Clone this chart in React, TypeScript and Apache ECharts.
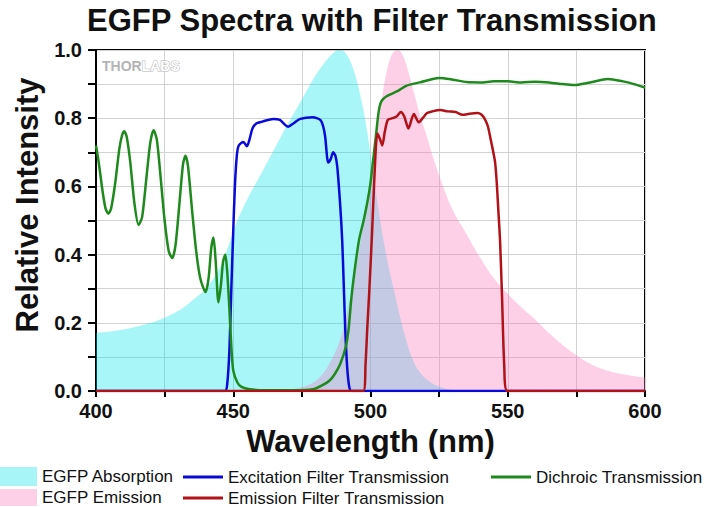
import React, { useEffect, useRef } from "react";
import * as echarts from "echarts";

// ---------- data (wavelength in nm, relative intensity) ----------
const absorptionNm = [400, 410, 420, 425, 430, 435, 440, 445, 448, 451, 455, 460, 465, 470, 475, 480, 484, 487, 489, 491, 493, 495, 497, 499, 501, 503, 505, 507, 509, 511, 513, 515, 518, 522, 526, 530, 600];
const absorptionVal = [0.17, 0.18, 0.2, 0.215, 0.235, 0.265, 0.3, 0.36, 0.42, 0.49, 0.56, 0.635, 0.71, 0.785, 0.855, 0.925, 0.97, 0.995, 1.0, 0.99, 0.96, 0.91, 0.84, 0.75, 0.64, 0.53, 0.43, 0.35, 0.28, 0.21, 0.15, 0.1, 0.055, 0.025, 0.01, 0.003, 0];

const emissionNm = [460, 471, 478, 482, 485, 488, 490, 492, 494, 496, 498, 500, 502, 504, 506, 508, 510, 512, 514, 516, 518, 520, 523, 526, 530, 535, 540, 545, 550, 555, 560, 565, 570, 575, 580, 585, 590, 595, 600];
const emissionVal = [0, 0.005, 0.02, 0.045, 0.08, 0.13, 0.18, 0.25, 0.33, 0.42, 0.52, 0.62, 0.74, 0.85, 0.94, 0.99, 1.0, 0.98, 0.93, 0.87, 0.81, 0.76, 0.68, 0.61, 0.53, 0.46, 0.39, 0.33, 0.285, 0.245, 0.21, 0.17, 0.135, 0.105, 0.08, 0.063, 0.052, 0.045, 0.04];

const excitationNm = [400, 447, 447.8, 448.6, 449.3, 450, 450.6, 451.3, 452, 453.7, 455, 456, 457, 458.5, 460.6, 464.6, 467, 470, 472, 474.4, 479, 481.7, 482.8, 483.5, 484.6, 485.5, 486.4, 487.2, 487.9, 489, 489.7, 490.3, 490.8, 491.5, 492.2, 493, 600];
const excitationVal = [0, 0, 0.02, 0.12, 0.3, 0.47, 0.6, 0.69, 0.72, 0.73, 0.718, 0.74, 0.77, 0.785, 0.79, 0.798, 0.795, 0.775, 0.785, 0.798, 0.803, 0.795, 0.775, 0.745, 0.67, 0.68, 0.7, 0.69, 0.657, 0.54, 0.44, 0.3, 0.18, 0.07, 0.015, 0, 0];

const dichroicNm = [400, 401, 402.5, 403.5, 404.5, 405.5, 407, 408.5, 409.5, 410.3, 411.2, 412.5, 414, 415.5, 416.8, 418.3, 419.8, 421, 422.2, 423.5, 425, 426.5, 427.8, 429, 430.5, 431.7, 432.6, 433.5, 435, 436.5, 438, 439.9, 441, 442, 442.8, 443.6, 444.6, 445.5, 446.3, 447.1, 447.8, 448.6, 449.3, 450, 451.5, 453, 456, 462, 472, 479, 482, 485, 487, 489, 491, 492, 493, 494, 495, 496, 497.5, 499, 500, 501, 502, 503, 504, 506, 510, 513, 518, 525, 530, 535, 540, 545, 550, 555, 560, 565, 570, 574, 580, 586.5, 592, 596, 600];
const dichroicVal = [0.72, 0.67, 0.58, 0.535, 0.52, 0.535, 0.61, 0.71, 0.75, 0.762, 0.745, 0.67, 0.55, 0.487, 0.51, 0.62, 0.73, 0.765, 0.735, 0.63, 0.5, 0.41, 0.39, 0.43, 0.56, 0.665, 0.69, 0.66, 0.53, 0.41, 0.33, 0.29, 0.33, 0.42, 0.45, 0.38, 0.26, 0.31, 0.38, 0.4, 0.35, 0.24, 0.13, 0.06, 0.025, 0.012, 0.005, 0.002, 0.002, 0.005, 0.015, 0.03, 0.05, 0.08, 0.13, 0.18, 0.27, 0.34, 0.4, 0.45, 0.5, 0.56, 0.61, 0.68, 0.75, 0.82, 0.85, 0.865, 0.88, 0.895, 0.905, 0.918, 0.913, 0.906, 0.905, 0.908, 0.908, 0.905, 0.907, 0.905, 0.9, 0.897, 0.905, 0.915, 0.908, 0.9, 0.89];

const emFilterNm = [400, 497.4, 498.2, 498.8, 499.6, 500.6, 501.5, 502.5, 503.4, 504.3, 505.2, 506.3, 508, 509.5, 511, 512.3, 513.8, 515.8, 517.6, 519, 520.6, 522.5, 525.4, 528, 531, 533.5, 536, 538.8, 540.5, 541.8, 542.8, 543.6, 544.5, 545.4, 546, 546.5, 547.2, 547.9, 548.7, 549.8, 600];
const emFilterVal = [0, 0, 0.08, 0.18, 0.3, 0.47, 0.64, 0.755, 0.74, 0.72, 0.76, 0.795, 0.8, 0.805, 0.818, 0.805, 0.77, 0.812, 0.788, 0.8, 0.815, 0.82, 0.824, 0.82, 0.818, 0.81, 0.813, 0.815, 0.81, 0.795, 0.775, 0.745, 0.71, 0.67, 0.61, 0.54, 0.44, 0.28, 0.08, 0, 0];

const xLabelTicks = [400, 450, 500, 550, 600];
const yLabelTicks = [0, 0.2, 0.4, 0.6, 0.8, 1.0];

const seriesNames = {
  abs: "EGFP Absorption",
  em: "EGFP Emission",
  ex: "Excitation Filter Transmission",
  em2: "Emission Filter Transmission",
  di: "Dichroic Transmission",
};

const FONT = "'Liberation Sans', Arial, Helvetica, sans-serif";
// thin horizontal bar centred in a 40x20 box (tiny corner dots fix the bounds)
const LINE_ICON = "path://M0,0L0.01,0L0.01,0.01Z M0,8.5L40,8.5L40,11.5L0,11.5Z M39.99,20L40,20L40,19.99Z";

const pairs = (xs: number[], ys: number[]) => xs.map((x, i) => [x, ys[i]]);

export default function App() {
  const ref = useRef<HTMLDivElement>(null);

  useEffect(() => {
    document.body.style.margin = "0";
    if (!ref.current) return;
    const chart = echarts.init(ref.current, null, { renderer: "svg" });

    const lineBase = {
      type: "line" as const,
      symbol: "none",
      smooth: 0.25,
      silent: true,
    };

    const legendText = { fontSize: 17, fontFamily: FONT, color: "#111" };
    const legendBase = {
      orient: "horizontal" as const,
      padding: 0,
      itemGap: 0,
      selectedMode: false,
      textStyle: legendText,
    };

    chart.setOption({
      animation: false,
      backgroundColor: "#fff",
      title: {
        text: "EGFP Spectra with Filter Transmission",
        left: 82,
        top: 0,
        textStyle: { fontSize: 31, fontWeight: "bold", fontFamily: FONT, color: "#111" },
      },
      grid: {
        left: 96,
        top: 50,
        width: 549,
        height: 341,
        show: true,
        borderColor: "#000",
        borderWidth: 2,
        backgroundColor: "transparent",
      },
      xAxis: {
        type: "value",
        min: 400,
        max: 600,
        interval: 25,
        name: "Wavelength (nm)",
        nameLocation: "middle",
        nameGap: 33,
        nameTextStyle: { fontSize: 31, fontWeight: "bold", fontFamily: FONT, color: "#111" },
        axisLine: { show: true, lineStyle: { color: "#000", width: 2 } },
        axisTick: { show: true, length: 6, lineStyle: { color: "#000", width: 2 } },
        axisLabel: {
          margin: 10,
          fontSize: 20,
          fontWeight: "bold",
          fontFamily: FONT,
          color: "#111",
          formatter: (v: number) => (xLabelTicks.includes(v) ? String(v) : ""),
        },
        splitLine: { show: true, lineStyle: { color: "#d2d2d2", width: 1 } },
      },
      yAxis: {
        type: "value",
        min: 0,
        max: 1,
        interval: 0.1,
        axisLine: { show: true, lineStyle: { color: "#000", width: 2 } },
        axisTick: { show: true, length: 8, lineStyle: { color: "#000", width: 2 } },
        axisLabel: {
          margin: 14,
          fontSize: 20,
          fontWeight: "bold",
          fontFamily: FONT,
          color: "#111",
          formatter: (v: number) => {
            const r = Math.round(v * 10) / 10;
            return yLabelTicks.some((t) => Math.abs(t - r) < 1e-6) ? r.toFixed(1) : "";
          },
        },
        splitLine: { show: true, lineStyle: { color: "#d2d2d2", width: 1 } },
      },
      legend: [
        {
          ...legendBase,
          left: 0,
          top: 467,
          itemWidth: 37,
          itemHeight: 19,
          data: [{ name: seriesNames.abs, icon: "rect", itemStyle: { color: "#a8f5f7" } }],
        },
        {
          ...legendBase,
          left: 0,
          top: 489,
          itemWidth: 37,
          itemHeight: 17,
          data: [{ name: seriesNames.em, icon: "rect", itemStyle: { color: "#fdd0e8" } }],
        },
        {
          ...legendBase,
          left: 183,
          top: 467,
          itemWidth: 40,
          itemHeight: 20,
          data: [{ name: seriesNames.ex, icon: LINE_ICON, itemStyle: { color: "#0a0ad8" } }],
        },
        {
          ...legendBase,
          left: 183,
          top: 488,
          itemWidth: 40,
          itemHeight: 20,
          data: [{ name: seriesNames.em2, icon: LINE_ICON, itemStyle: { color: "#b01218" } }],
        },
        {
          ...legendBase,
          left: 491,
          top: 467,
          itemWidth: 40,
          itemHeight: 20,
          data: [{ name: seriesNames.di, icon: LINE_ICON, itemStyle: { color: "#1e8a1e" } }],
        },
      ],
      graphic: [
        {
          type: "text",
          x: 27,
          y: 205,
          rotation: Math.PI / 2,
          style: {
            text: "Relative Intensity",
            fontSize: 31,
            fontWeight: "bold",
            fontFamily: FONT,
            fill: "#111",
            align: "center",
            verticalAlign: "middle",
          },
        },
        {
          type: "text",
          x: 102,
          y: 66,
          z: 10,
          style: {
            text: "{a|THOR}{b|LABS}",
            verticalAlign: "middle",
            rich: {
              a: { fontSize: 14, fontWeight: "bold", fontFamily: FONT, fill: "#b4b4b4" },
              b: { fontSize: 14, fontWeight: "bold", fontFamily: FONT, fill: "#ffffff", stroke: "#b4b4b4", lineWidth: 1 },
            },
          },
        },
      ],
      series: [
        {
          ...lineBase,
          name: seriesNames.abs,
          data: pairs(absorptionNm, absorptionVal),
          smooth: 0.4,
          lineStyle: { width: 0 },
          itemStyle: { color: "#a8f5f7" },
          areaStyle: { color: "rgba(0,228,235,0.34)", opacity: 1 },
          z: 1,
        },
        {
          ...lineBase,
          name: seriesNames.em,
          data: pairs(emissionNm, emissionVal),
          smooth: 0.4,
          lineStyle: { width: 0 },
          itemStyle: { color: "#fdd0e8" },
          areaStyle: { color: "rgba(249,121,189,0.35)", opacity: 1 },
          z: 2,
        },
        {
          ...lineBase,
          name: seriesNames.ex,
          data: pairs(excitationNm, excitationVal),
          itemStyle: { color: "#0a0ad8" },
          lineStyle: { width: 2.5, color: "#0a0ad8" },
          z: 3,
        },
        {
          ...lineBase,
          name: seriesNames.di,
          data: pairs(dichroicNm, dichroicVal),
          itemStyle: { color: "#1e8a1e" },
          lineStyle: { width: 2.5, color: "#1e8a1e" },
          z: 4,
        },
        {
          ...lineBase,
          name: seriesNames.em2,
          data: pairs(emFilterNm, emFilterVal),
          itemStyle: { color: "#b01218" },
          lineStyle: { width: 2.5, color: "#b01218" },
          z: 5,
        },
      ],
    });

    return () => chart.dispose();
  }, []);

  return <div ref={ref} style={{ width: 707, height: 507 }} />;
}
